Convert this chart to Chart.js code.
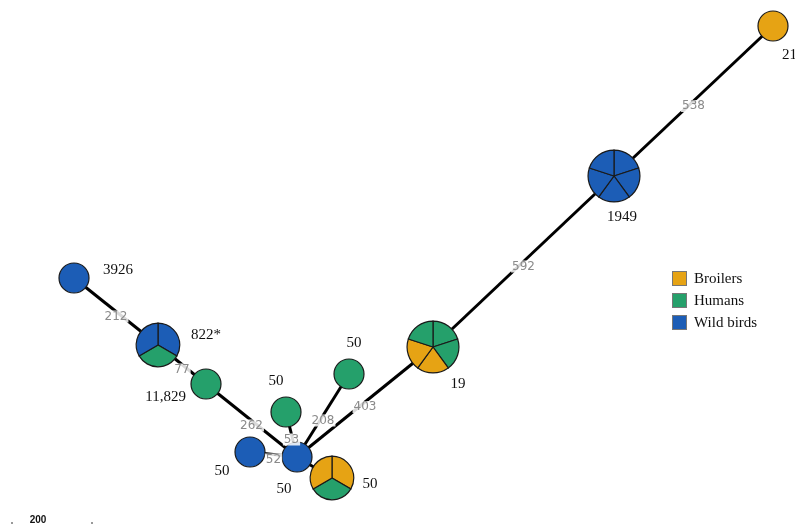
<!DOCTYPE html>
<html>
<head>
<meta charset="utf-8">
<script src="https://cdn.jsdelivr.net/npm/chart.js@4.4.1/dist/chart.umd.min.js"></script>
<style>
  html, body { margin: 0; padding: 0; background: #fff; }
  #wrap { width: 795px; height: 524px; }
</style>
</head>
<body>
<div id="wrap"><canvas id="mst" width="795" height="524"></canvas></div>
<script>
// categories (legend)
const categories = ['Broilers', 'Humans', 'Wild birds'];
const catColors = ['#E6A314', '#25A06B', '#1C5DB6'];

// nodes of the minimum spanning tree (layout units)
const nodeX = [773, 614, 433, 74, 158, 206, 349, 286, 250, 297, 332];
const nodeY = [26, 176, 347, 278, 345, 384, 374, 412, 452, 457, 478];
const nodeLabels = ['21', '1949', '19', '3926', '822*', '11,829', '50', '50', '50', '50', '50'];
// isolates per node, by category index (0 broilers, 1 humans, 2 wild birds)
const nodeSlices = [
  [0],
  [2, 2, 2, 2, 2],
  [1, 1, 0, 0, 1],
  [2],
  [2, 1, 2],
  [1],
  [1],
  [1],
  [2],
  [2],
  [0, 1, 0]
];

// edges: from node, to node, allelic distance
const edgeFrom = [0, 1, 2, 6, 7, 8, 5, 4, 3, 9];
const edgeTo   = [1, 2, 9, 9, 9, 9, 9, 5, 4, 10];
const edgeDist = ['538', '592', '403', '208', '53', '52', '262', '77', '212', ''];

// label placement per node: [dx, dy, align]
const labelPos = [
  [9, 29, 'left'], [8, 41, 'center'], [25, 37, 'center'], [29, -8, 'left'],
  [33, -10, 'left'], [-20, 13, 'right'], [5, -31, 'center'], [-10, -31, 'center'],
  [-28, 19, 'center'], [-13, 32, 'center'], [38, 6, 'center']
];

const edgeDatasets = edgeFrom.map((f, i) => ({
  type: 'scatter',
  showLine: true,
  data: [{x: nodeX[f], y: nodeY[f]}, {x: nodeX[edgeTo[i]], y: nodeY[edgeTo[i]]}],
  borderColor: '#000',
  borderWidth: 3,
  pointRadius: 0,
  pointHoverRadius: 0
}));

const whiteBg = {
  id: 'whiteBg',
  beforeDraw(chart) {
    const c = chart.ctx;
    c.save();
    c.fillStyle = '#fff';
    c.fillRect(0, 0, chart.width, chart.height);
    c.restore();
  }
};

const treeNodes = {
  id: 'treeNodes',
  afterDatasetsDraw(chart) {
    const c = chart.ctx;
    const xs = chart.scales.x, ys = chart.scales.y;
    c.save();
    // nodes as pies
    nodeX.forEach((vx, i) => {
      const px = xs.getPixelForValue(vx), py = ys.getPixelForValue(nodeY[i]);
      const sl = nodeSlices[i];
      const r = 15 * Math.pow(sl.length, 0.34);
      const step = Math.PI * 2 / sl.length;
      sl.forEach((cat, k) => {
        const a0 = -Math.PI / 2 + k * step;
        c.beginPath();
        if (sl.length > 1) c.moveTo(px, py);
        c.arc(px, py, r, a0, a0 + step);
        c.closePath();
        c.fillStyle = catColors[cat];
        c.fill();
        c.lineWidth = 1.2;
        c.strokeStyle = '#1a1a1a';
        c.stroke();
      });
      // node label
      const lp = labelPos[i];
      c.font = '15px "Liberation Serif", serif';
      c.fillStyle = '#111';
      c.textAlign = lp[2];
      c.textBaseline = 'middle';
      c.fillText(nodeLabels[i], px + lp[0], py + lp[1]);
    });
    // edge distances
    c.font = '12px "DejaVu Sans", sans-serif';
    c.textAlign = 'center';
    c.textBaseline = 'middle';
    edgeFrom.forEach((f, i) => {
      if (!edgeDist[i]) return;
      const t = edgeTo[i];
      const mx = (xs.getPixelForValue(nodeX[f]) + xs.getPixelForValue(nodeX[t])) / 2;
      const my = (ys.getPixelForValue(nodeY[f]) + ys.getPixelForValue(nodeY[t])) / 2 + 5;
      const w = c.measureText(edgeDist[i]).width;
      c.fillStyle = 'rgba(255,255,255,0.85)';
      c.fillRect(mx - w / 2 - 1, my - 6, w + 2, 12);
      c.fillStyle = '#8a8a8a';
      c.fillText(edgeDist[i], mx, my);
    });
    // legend
    c.font = '15px "Liberation Serif", serif';
    c.textAlign = 'left';
    categories.forEach((name, i) => {
      const ly = 271 + i * 22;
      c.fillStyle = catColors[i];
      c.fillRect(672, ly, 14, 14);
      c.lineWidth = 1;
      c.strokeStyle = '#777';
      c.strokeRect(672.5, ly + 0.5, 14, 14);
      c.fillStyle = '#111';
      c.fillText(name, 694, ly + 8);
    });
    // scale bar
    c.font = 'bold 10px "Liberation Sans", sans-serif';
    c.fillStyle = '#111';
    c.textAlign = 'center';
    c.fillText('200', 38, 520);
    c.fillStyle = '#999';
    c.fillRect(11, 522, 2, 2);
    c.fillRect(91, 522, 2, 2);
    c.restore();
  }
};

new Chart(document.getElementById('mst').getContext('2d'), {
  type: 'scatter',
  data: { datasets: edgeDatasets },
  options: {
    responsive: false,
    animation: false,
    layout: { padding: 0 },
    plugins: { legend: { display: false }, tooltip: { enabled: false } },
    scales: {
      x: { type: 'linear', min: 0, max: 795, display: false },
      y: { type: 'linear', min: 0, max: 524, reverse: true, display: false }
    }
  },
  plugins: [whiteBg, treeNodes]
});
</script>
</body>
</html>
